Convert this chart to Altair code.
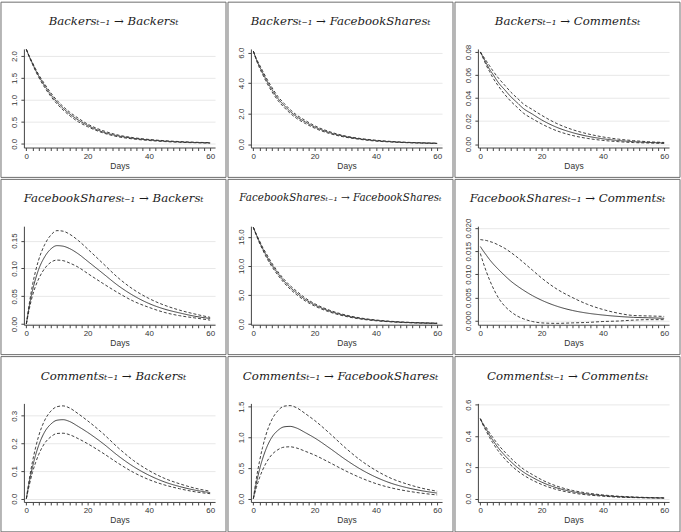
import altair as alt
import pandas as pd

DAYS = [0, 1, 2, 3, 4, 6, 8, 10, 12, 14, 17, 20, 25, 30, 35, 40, 45, 50, 55, 60]

# Panel 1: Backers -> Backers
B_B_mid = [2.15, 1.98, 1.83, 1.68, 1.55, 1.32, 1.12, 0.95, 0.81, 0.69, 0.54, 0.42, 0.27, 0.18, 0.125, 0.09, 0.063, 0.044, 0.031, 0.022]
B_B_lo = [2.15, 1.97, 1.81, 1.66, 1.52, 1.28, 1.08, 0.91, 0.77, 0.65, 0.50, 0.39, 0.25, 0.16, 0.11, 0.076, 0.052, 0.035, 0.025, 0.017]
B_B_hi = [2.15, 1.99, 1.85, 1.71, 1.58, 1.36, 1.16, 0.99, 0.85, 0.73, 0.58, 0.45, 0.30, 0.20, 0.14, 0.10, 0.072, 0.052, 0.037, 0.027]

# Panel 2: Backers -> FacebookShares
B_F_mid = [6.1, 5.55, 5.1, 4.7, 4.3, 3.6, 3.0, 2.55, 2.15, 1.82, 1.45, 1.13, 0.75, 0.5, 0.34, 0.23, 0.16, 0.11, 0.08, 0.055]
B_F_lo = [6.1, 5.5, 5.0, 4.58, 4.17, 3.46, 2.87, 2.42, 2.03, 1.71, 1.35, 1.05, 0.69, 0.46, 0.31, 0.2, 0.14, 0.095, 0.067, 0.045]
B_F_hi = [6.1, 5.6, 5.2, 4.82, 4.43, 3.74, 3.13, 2.68, 2.27, 1.93, 1.55, 1.21, 0.81, 0.54, 0.37, 0.26, 0.18, 0.125, 0.09, 0.065]

# Panel 3: Backers -> Comments
B_C_mid = [0.080, 0.075, 0.070, 0.065, 0.061, 0.053, 0.047, 0.041, 0.036, 0.031, 0.026, 0.021, 0.0145, 0.010, 0.0068, 0.0046, 0.0031, 0.0021, 0.0014, 0.0010]
B_C_lo = [0.080, 0.074, 0.068, 0.063, 0.058, 0.050, 0.043, 0.037, 0.032, 0.027, 0.022, 0.0175, 0.0115, 0.0075, 0.0049, 0.0032, 0.0021, 0.0013, 0.0009, 0.0006]
B_C_hi = [0.080, 0.076, 0.072, 0.068, 0.064, 0.057, 0.051, 0.045, 0.040, 0.035, 0.030, 0.025, 0.0178, 0.0126, 0.0089, 0.0062, 0.0043, 0.003, 0.002, 0.0014]

# Panel 4: FacebookShares -> Backers
F_B_mid = [0, 0.033, 0.060, 0.081, 0.098, 0.121, 0.135, 0.141, 0.140, 0.136, 0.126, 0.113, 0.091, 0.069, 0.051, 0.037, 0.027, 0.020, 0.014, 0.010]
F_B_lo = [0, 0.028, 0.051, 0.068, 0.081, 0.100, 0.111, 0.115, 0.114, 0.110, 0.102, 0.091, 0.073, 0.056, 0.041, 0.030, 0.021, 0.015, 0.011, 0.007]
F_B_hi = [0, 0.038, 0.070, 0.095, 0.115, 0.143, 0.160, 0.168, 0.167, 0.162, 0.150, 0.135, 0.109, 0.083, 0.062, 0.046, 0.034, 0.025, 0.018, 0.012]

# Panel 5: FacebookShares -> FacebookShares
F_F_mid = [16.6, 15.3, 14.1, 13.0, 12.0, 10.2, 8.7, 7.4, 6.3, 5.4, 4.2, 3.3, 2.2, 1.45, 0.95, 0.63, 0.42, 0.28, 0.19, 0.13]
F_F_lo = [16.6, 15.2, 13.9, 12.8, 11.7, 9.9, 8.4, 7.1, 6.0, 5.1, 3.95, 3.1, 2.05, 1.33, 0.86, 0.56, 0.37, 0.24, 0.16, 0.11]
F_F_hi = [16.6, 15.4, 14.3, 13.2, 12.3, 10.5, 9.0, 7.7, 6.6, 5.7, 4.45, 3.5, 2.35, 1.57, 1.04, 0.7, 0.47, 0.32, 0.22, 0.15]

# Panel 6: FacebookShares -> Comments
F_C_mid = [0.0160, 0.0150, 0.0141, 0.0132, 0.0124, 0.0110, 0.0097, 0.0085, 0.0075, 0.0066, 0.0054, 0.0044, 0.0031, 0.0022, 0.0016, 0.0012, 0.0009, 0.0007, 0.0006, 0.0005]
F_C_lo = [0.0145, 0.0124, 0.0105, 0.0088, 0.0073, 0.0048, 0.0031, 0.0019, 0.0010, 0.0004, -0.0002, -0.0005, -0.0006, -0.0005, -0.0004, -0.0002, -0.0001, 0.0001, 0.0002, 0.0002]
F_C_hi = [0.0175, 0.0174, 0.0173, 0.0171, 0.0169, 0.0163, 0.0156, 0.0147, 0.0137, 0.0126, 0.0109, 0.0092, 0.0068, 0.0050, 0.0035, 0.0024, 0.0016, 0.0011, 0.0010, 0.0009]

# Panel 7: Comments -> Backers
C_B_mid = [0, 0.062, 0.114, 0.157, 0.192, 0.242, 0.270, 0.284, 0.286, 0.280, 0.261, 0.240, 0.200, 0.155, 0.116, 0.085, 0.061, 0.044, 0.031, 0.022]
C_B_lo = [0, 0.051, 0.095, 0.130, 0.159, 0.201, 0.224, 0.236, 0.237, 0.232, 0.217, 0.199, 0.165, 0.128, 0.095, 0.069, 0.050, 0.036, 0.025, 0.018]
C_B_hi = [0, 0.073, 0.134, 0.184, 0.226, 0.284, 0.317, 0.333, 0.336, 0.329, 0.307, 0.282, 0.236, 0.184, 0.138, 0.102, 0.074, 0.054, 0.038, 0.027]

# Panel 8: Comments -> FacebookShares
C_F_mid = [0, 0.255, 0.47, 0.647, 0.79, 0.997, 1.112, 1.17, 1.178, 1.153, 1.075, 0.99, 0.82, 0.64, 0.48, 0.35, 0.25, 0.18, 0.128, 0.09]
C_F_lo = [0, 0.183, 0.337, 0.464, 0.566, 0.715, 0.797, 0.839, 0.845, 0.827, 0.771, 0.71, 0.585, 0.455, 0.34, 0.245, 0.175, 0.125, 0.088, 0.06]
C_F_hi = [0, 0.33, 0.605, 0.833, 1.02, 1.284, 1.432, 1.507, 1.517, 1.485, 1.385, 1.275, 1.06, 0.83, 0.625, 0.46, 0.33, 0.24, 0.17, 0.12]

# Panel 9: Comments -> Comments
C_C_mid = [0.51, 0.47, 0.44, 0.405, 0.375, 0.32, 0.275, 0.235, 0.20, 0.17, 0.135, 0.105, 0.068, 0.044, 0.029, 0.019, 0.012, 0.008, 0.005, 0.0035]
C_C_lo = [0.51, 0.465, 0.428, 0.39, 0.358, 0.30, 0.253, 0.213, 0.179, 0.151, 0.117, 0.090, 0.057, 0.036, 0.023, 0.015, 0.009, 0.006, 0.004, 0.0025]
C_C_hi = [0.51, 0.475, 0.452, 0.42, 0.392, 0.34, 0.297, 0.257, 0.221, 0.189, 0.153, 0.120, 0.079, 0.052, 0.035, 0.023, 0.015, 0.010, 0.0065, 0.0045]

TITLES = [
    "Backersₜ₋₁ → Backersₜ", "Backersₜ₋₁ → FacebookSharesₜ", "Backersₜ₋₁ → Commentsₜ",
    "FacebookSharesₜ₋₁ → Backersₜ", "FacebookSharesₜ₋₁ → FacebookSharesₜ", "FacebookSharesₜ₋₁ → Commentsₜ",
    "Commentsₜ₋₁ → Backersₜ", "Commentsₜ₋₁ → FacebookSharesₜ", "Commentsₜ₋₁ → Commentsₜ",
]
TITLE_SIZES = [11.8, 11.8, 11.8, 11.8, 10.4, 11.8, 11.8, 11.8, 11.8]
SERIES = [
    (B_B_mid, B_B_lo, B_B_hi), (B_F_mid, B_F_lo, B_F_hi), (B_C_mid, B_C_lo, B_C_hi),
    (F_B_mid, F_B_lo, F_B_hi), (F_F_mid, F_F_lo, F_F_hi), (F_C_mid, F_C_lo, F_C_hi),
    (C_B_mid, C_B_lo, C_B_hi), (C_F_mid, C_F_lo, C_F_hi), (C_C_mid, C_C_lo, C_C_hi),
]
Y_DOMAINS = [
    [-0.084, 2.16], [-0.22, 6.24], [-0.003, 0.0826],
    [-0.0013, 0.176], [-0.12, 16.8], [-0.0009, 0.0204],
    [-0.012, 0.345], [-0.055, 1.553], [-0.022, 0.608],
]
Y_TICKS = [
    [0, 0.5, 1.0, 1.5, 2.0], [0, 2, 4, 6], [0, 0.02, 0.04, 0.06, 0.08],
    [0, 0.05, 0.10, 0.15], [0, 5, 10, 15], [0, 0.005, 0.010, 0.015, 0.020],
    [0, 0.1, 0.2, 0.3], [0, 0.5, 1.0, 1.5], [0, 0.2, 0.4, 0.6],
]
Y_FORMATS = [".1f", ".1f", ".2f", ".2f", ".1f", ".3f", ".1f", ".1f", ".1f"]
X_TICKS = list(range(0, 61, 2))

W, H = 192, 99
LEFT, TOP = 23, 47
CELL_W, CELL_H = 226, 176


def panel(i):
    mid, lo, hi = SERIES[i]
    rows = []
    for band, vals in (("lo", lo), ("hi", hi), ("mid", mid)):
        for d, v in zip(DAYS, vals):
            rows.append({"day": d, "value": v, "band": band})
    df = pd.DataFrame(rows)

    x = alt.X(
        "day:Q",
        scale=alt.Scale(domain=[-0.8, 61.6], nice=False, zero=False),
        axis=alt.Axis(
            values=X_TICKS,
            labelExpr="datum.value % 20 == 0 ? datum.label : ''",
            title="Days",
            grid=False,
            tickSize=3,
            labelPadding=2,
            titlePadding=1,
            labelOverlap=False,
        ),
    )
    y = alt.Y(
        "value:Q",
        scale=alt.Scale(domain=Y_DOMAINS[i], nice=False, zero=False),
        axis=alt.Axis(
            values=Y_TICKS[i],
            format=Y_FORMATS[i],
            labelAngle=270,
            title=None,
            grid=True,
            tickSize=3,
            labelPadding=2,
            labelOverlap=False,
        ),
    )
    lines = (
        alt.Chart(df)
        .mark_line(interpolate="monotone", strokeWidth=0.9, color="#2a2a2a")
        .encode(
            x=x,
            y=y,
            detail="band:N",
            strokeDash=alt.StrokeDash(
                "band:N",
                scale=alt.Scale(domain=["mid", "lo", "hi"], range=[[1, 0], [3, 2], [3, 2]]),
                legend=None,
            ),
        )
    )
    border = (
        alt.Chart(pd.DataFrame({"a": [0]}))
        .mark_rect(fill="white", fillOpacity=0, stroke="#6e6e6e", strokeWidth=1)
        .encode(
            x=alt.value(-LEFT),
            x2=alt.value(CELL_W - LEFT),
            y=alt.value(-TOP),
            y2=alt.value(CELL_H - TOP),
        )
    )
    ttl = (
        alt.Chart(pd.DataFrame({"t": [TITLES[i]]}))
        .mark_text(font="DejaVu Serif", fontStyle="italic", fontSize=TITLE_SIZES[i], color="#1a1a1a", baseline="middle")
        .encode(x=alt.value(CELL_W / 2 - LEFT), y=alt.value(-28), text="t:N")
    )
    return alt.layer(border, lines, ttl).properties(width=W, height=H)


rows = []
for r in range(3):
    rows.append(alt.hconcat(*[panel(r * 3 + c) for c in range(3)], spacing=0))

chart = (
    alt.vconcat(*rows, spacing=0)
    .properties(padding=0, background="white")
    .configure_view(stroke=None)
    .configure_axis(
        domainColor="#444",
        tickColor="#444",
        domainWidth=1,
        tickWidth=1,
        labelColor="#333",
        labelFont="Liberation Sans",
        labelFontSize=8,
        titleFont="Liberation Sans",
        titleFontSize=8.5,
        titleFontWeight="normal",
        titleColor="#333",
        gridColor="#e8e8e8",
        gridWidth=1,
    )
)

chart.save("out.html", embed_options={"renderer": "svg", "actions": False})
